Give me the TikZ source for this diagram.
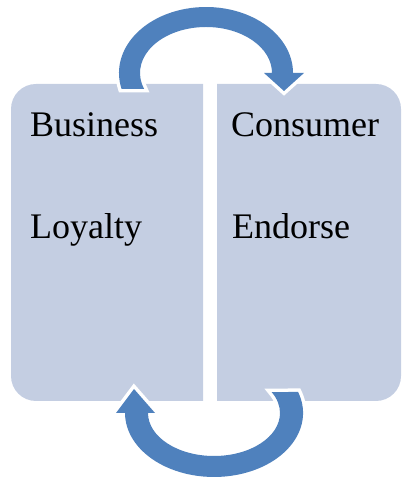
\documentclass[tikz,border=0pt]{standalone}
\usepackage{fontspec}
\setmainfont{Liberation Serif}
\begin{document}
\definecolor{panelfill}{RGB}{196,206,226}
\definecolor{arrowblue}{RGB}{79,129,189}
\begin{tikzpicture}[x=1pt,y=1pt,
  panel/.style={fill=panelfill},
  label/.style={anchor=base west, inner sep=0pt, font=\fontsize{36}{40}\selectfont},
  cyclearrow/.style={fill=arrowblue, preaction={draw=white, line width=7pt, line join=miter}}]
\useasboundingbox (0,0) rectangle (402,479);

% left panel, rounded on its outer (left) corners
\path[panel] (203,78) -- (36,78) arc[start angle=270, end angle=180, radius=25]
  -- (11,370) arc[start angle=180, end angle=90, radius=25] -- (203,395) -- cycle;
% right panel, rounded on its outer (right) corners
\path[panel] (217,78) -- (376,78) arc[start angle=270, end angle=360, radius=25]
  -- (401,370) arc[start angle=0, end angle=90, radius=25] -- (217,395) -- cycle;

% panel texts
\node[label] (business) at (30,342) {Business};
\node[label] (loyalty)  at (30,240) {Loyalty};
\node[label] (consumer) at (231,342) {Consumer};
\node[label] (endorse)  at (232,240) {Endorse};

% upper arc arrow: from the left panel over the gap into the right panel
\path[cyclearrow] (121.6,390)
  arc[start angle=194.03, end angle=0, x radius=87, y radius=66]
  -- (304,406) -- (284,388) -- (264,406) -- (272,406)
  arc[start angle=0, end angle=200.35, x radius=66, y radius=46] -- cycle;

% lower arc arrow: from the right panel under the gap back into the left panel
\path[cyclearrow] (298.1,87)
  arc[start angle=19.15, end angle=-180, x radius=89, y radius=64]
  -- (116,66) -- (134,90) -- (155,66) -- (148,66)
  arc[start angle=-180, end angle=29.23, x radius=66, y radius=43] -- cycle;
\end{tikzpicture}
\end{document}
